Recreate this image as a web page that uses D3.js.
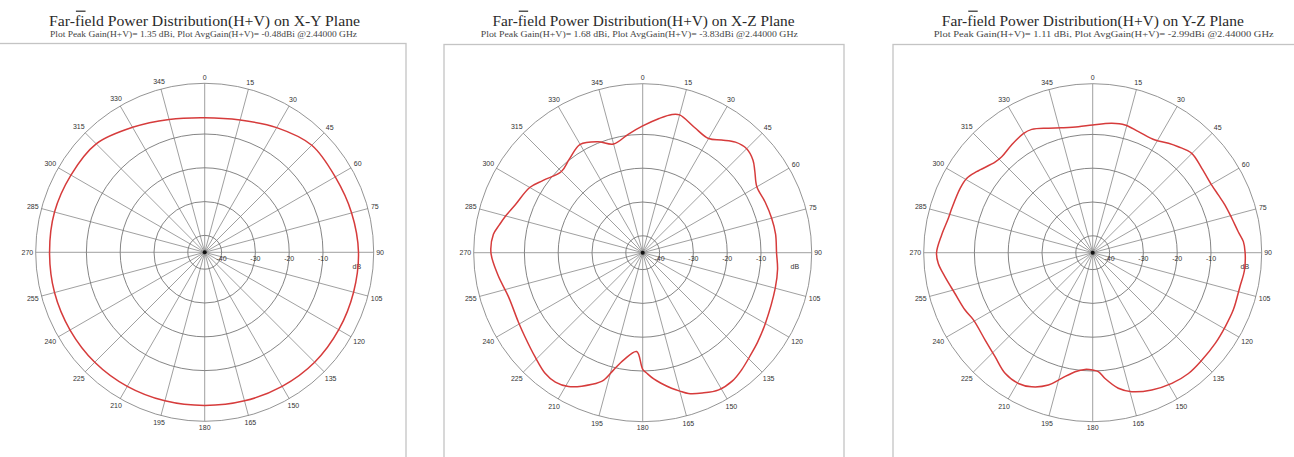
<!DOCTYPE html>
<html>
<head>
<meta charset="utf-8">
<script src="https://cdn.jsdelivr.net/npm/d3@7"></script>
<style>
  body { margin: 0; background: #fff; }
</style>
</head>
<body>
<script>
const width = 1294
const height = 457

// chart data
const planes = ['X-Y', 'X-Z', 'Y-Z']
const peakGain = ['1.35', '1.68', '1.11']
const avgGain = ['-0.48', '-3.83', '-2.99']
const freqLabel = '2.44000 GHz'

const ringTicks = [-40, -30, -20, -10]
const angleTicks = d3.range(0, 360, 15)
const dbDomain = [-45, 5]

// gain readings: angle (deg, clockwise from top) and gain (dB)
const xyAngles = [0, 15, 30, 45, 60, 75, 90, 105, 120, 135, 150, 165, 180, 195, 210, 225, 240, 255, 270, 285, 300, 315, 330, 345]
const xyGain = [-5.2, -4.5, -2.4, -0.2, -0.4, 0, 0.5, 0.6, 0.8, 1.0, 0.8, 0.5, 0.3, 0.5, 0.8, 1.0, 1.0, 1.0, 0.9, 1.0, 0.7, 0.4, -2.3, -4.3]

const xzAngles = [0, 7, 12, 15, 22.5, 30, 35, 40, 45, 50, 54, 60, 67.5, 75, 82, 90, 97, 105, 120, 128, 133, 140, 145, 151, 157, 162, 165, 168, 172, 175, 178, 180, 183.5, 190, 194, 197, 201, 209, 214, 219, 226, 234.5, 241, 252, 261, 270, 277, 281, 285, 290.5, 300, 306, 315, 322, 330, 338, 345, 353]
const xzGain = [-7.5, -5, -3.2, -2.8, -4.9, -6, -4.3, -2.3, -1.5, -2.4, -4, -6, -5.8, -5.5, -5.3, -5.4, -4.8, -4.4, -3.1, -1.9, -1.1, 0.4, 1.3, 1.4, 0.1, -1.2, -2.6, -4, -6, -7.5, -9.3, -10.5, -15.7, -12.8, -9.2, -5.6, -3.3, 0.3, 1.2, 0.9, -0.7, -2.2, -2.9, -3.2, -1.7, -0.1, -0.5, -1.8, -3, -4.7, -6.4, -8.6, -11, -9.8, -8, -9.6, -11.7, -9.7]

const yzAngles = [0, 8.4, 14.2, 20.7, 29, 34.7, 38.9, 44.9, 52.3, 60.4, 65.3, 70.2, 76.1, 81.8, 85.8, 90, 96.5, 103, 112, 119, 126.5, 134.6, 141.6, 148.8, 156.7, 164.3, 169.3, 174.4, 177.3, 180, 183.8, 188.4, 193.9, 198.5, 204.5, 209.6, 216, 223.2, 230.9, 240.6, 245.8, 253.5, 260.8, 266, 270, 276.7, 283.4, 287.5, 295.9, 300.5, 304.9, 312.8, 316.5, 323, 329.8, 333.7, 340.4, 346, 353.5]
const yzGain = [-7.2, -6.3, -6, -6.7, -6.9, -5.6, -4.7, -3.5, -4.2, -4.5, -4.1, -3.4, -2.6, -1.5, -0.3, 0.1, 0.2, -0.3, -0.1, -0.1, 0.1, 0.3, 0.6, 0.2, -0.8, -2.3, -4.2, -7.6, -9.8, -10.3, -10.4, -9.4, -6.7, -3.7, -1.4, -0.5, -0.9, -2.8, -4, -4.5, -3.6, -2.5, -0.7, 0.8, 1.2, 0, -1.1, -1.3, -1.4, -1.7, -3.1, -5.6, -5.9, -5.1, -4.2, -4.3, -5.9, -6.9, -7.5]

const series = [
  d3.zip(xyAngles, xyGain),
  d3.zip(xzAngles, xzGain),
  d3.zip(yzAngles, yzGain)
]

// layout of the three panels
const R = 169
const layout = [
  { cx: 204.7, cy: 252.3, box: [-5, 43.5, 406, 470], tx: 204.5, tlen: 311, sx: 203.5, slen: 307 },
  { cx: 642.7, cy: 252.7, box: [444, 44.5, 844, 470], tx: 643.5, tlen: 302, sx: 639.3, slen: 317 },
  { cx: 1092.7, cy: 252.7, box: [893, 44.5, 1300, 470], tx: 1092.8, tlen: 302, sx: 1103.7, slen: 340 }
]

const r = d3.scaleLinear().domain(dbDomain).range([0, R])
const toRad = (deg) => deg * Math.PI / 180

const line = d3.lineRadial()
  .angle((d) => toRad(d[0]))
  .radius((d) => r(d[1]))
  .curve(d3.curveCatmullRomClosed.alpha(0.5))

const svg = d3.select('body')
  .append('svg')
    .attr('width', width)
    .attr('height', height)

planes.forEach((plane, i) => {
  const L = layout[i]

  // frame
  svg.append('rect')
    .attr('x', L.box[0])
    .attr('y', L.box[1])
    .attr('width', L.box[2] - L.box[0])
    .attr('height', L.box[3] - L.box[1])
    .attr('fill', 'none')
    .attr('stroke', '#c4c4c4')
    .attr('stroke-width', 1.3)

  // titles
  const title = svg.append('text')
    .attr('x', L.tx)
    .attr('y', 26)
    .attr('text-anchor', 'middle')
    .attr('font-family', 'Liberation Serif, serif')
    .attr('font-size', 15)
    .attr('fill', '#2a2a2a')
    .attr('textLength', L.tlen)
    .attr('lengthAdjust', 'spacingAndGlyphs')
    .text('Far-field Power Distribution(H+V) on ' + plane + ' Plane')

  // the little bar drawn over "fi" in the original
  const n = title.node()
  const fx0 = n.getStartPositionOfChar(4).x
  const fx1 = n.getEndPositionOfChar(5).x
  svg.append('line')
    .attr('x1', fx0 + 1).attr('x2', fx1 + 1)
    .attr('y1', 11.2).attr('y2', 11.2)
    .attr('stroke', '#2a2a2a')
    .attr('stroke-width', 1.2)

  svg.append('text')
    .attr('x', L.sx)
    .attr('y', 36.5)
    .attr('text-anchor', 'middle')
    .attr('font-family', 'Liberation Serif, serif')
    .attr('font-size', 8)
    .attr('fill', '#444')
    .attr('textLength', L.slen)
    .attr('lengthAdjust', 'spacingAndGlyphs')
    .text('Plot Peak Gain(H+V)= ' + peakGain[i] + ' dBi, Plot AvgGain(H+V)= ' + avgGain[i] + 'dBi @' + freqLabel)

  const g = svg.append('g')
    .attr('transform', 'translate(' + [L.cx, L.cy] + ')')

  // grid
  g.selectAll('circle.ring')
    .data(ringTicks)
    .join('circle')
      .attr('class', 'ring')
      .attr('r', (d) => r(d))
      .attr('fill', 'none')
      .attr('stroke', '#666')
      .attr('stroke-width', 0.8)

  g.append('circle')
    .attr('r', r(dbDomain[1]))
    .attr('fill', 'none')
    .attr('stroke', '#888')
    .attr('stroke-width', 0.9)

  g.selectAll('line.spoke')
    .data(angleTicks)
    .join('line')
      .attr('class', 'spoke')
      .attr('x1', 0).attr('y1', 0)
      .attr('x2', (d) => r(dbDomain[1]) * Math.sin(toRad(d)))
      .attr('y2', (d) => -r(dbDomain[1]) * Math.cos(toRad(d)))
      .attr('stroke', '#777')
      .attr('stroke-width', 0.7)

  g.append('circle')
    .attr('r', 2)
    .attr('fill', '#111')

  // angle labels
  const labels = g.selectAll('text.ang')
    .data(angleTicks)
    .join('text')
      .attr('class', 'ang')
      .attr('font-family', 'Liberation Sans, Arial, sans-serif')
      .attr('font-size', 7)
      .attr('fill', '#333')
      .attr('text-anchor', 'middle')
      .attr('dominant-baseline', 'central')
      .text((d) => d)

  labels.each(function(d) {
    const w = this.getComputedTextLength()
    const a = toRad(d)
    const off = r(dbDomain[1]) + 2.5 + Math.abs(Math.sin(a)) * w / 2 + Math.abs(Math.cos(a)) * 3.5
    d3.select(this)
      .attr('x', off * Math.sin(a))
      .attr('y', -off * Math.cos(a))
  })

  // ring labels
  g.selectAll('text.ringlab')
    .data(ringTicks)
    .join('text')
      .attr('class', 'ringlab')
      .attr('x', (d) => r(d))
      .attr('y', 8.5)
      .attr('font-family', 'Liberation Sans, Arial, sans-serif')
      .attr('font-size', 7)
      .attr('fill', '#333')
      .attr('text-anchor', 'middle')
      .text((d) => d)

  g.append('text')
    .attr('x', r(0))
    .attr('y', 16.5)
    .attr('font-family', 'Liberation Sans, Arial, sans-serif')
    .attr('font-size', 7)
    .attr('fill', '#333')
    .attr('text-anchor', 'middle')
    .text('dB')

  // pattern
  g.append('path')
    .attr('d', line(series[i]))
    .attr('fill', 'none')
    .attr('stroke', '#d63b3b')
    .attr('stroke-width', 1.5)
})
</script>
</body>
</html>
